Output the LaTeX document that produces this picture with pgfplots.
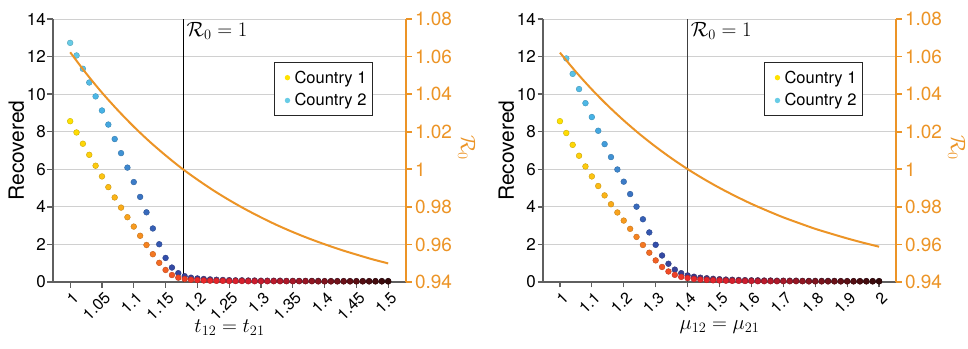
\documentclass[border=0pt]{standalone}
\usepackage{fontspec}
\setmainfont{TeX Gyre Heros}
\usepackage{pgfplots}
\usepackage{pgfplotstable}
\pgfplotsset{compat=1.18}

\definecolor{rzero}{RGB}{236,148,38}
\definecolor{axgray}{RGB}{95,95,95}
\definecolor{gridgray}{RGB}{208,208,208}
\definecolor{cone}{RGB}{255,226,0}
\definecolor{ctwo}{RGB}{104,204,230}

\pgfplotsset{
  colormap={countryone}{rgb255=(255,226,0) rgb255=(253,196,18) rgb255=(248,155,30)
    rgb255=(242,96,36) rgb255=(236,42,40) rgb255=(224,34,44) rgb255=(200,28,46)
    rgb255=(168,24,40) rgb255=(128,20,30) rgb255=(92,15,20) rgb255=(52,10,10)},
  colormap={countrytwo}{rgb255=(104,204,230) rgb255=(70,178,230) rgb255=(60,124,200)
    rgb255=(50,78,170) rgb255=(60,58,140) rgb255=(80,50,110) rgb255=(80,40,90)
    rgb255=(70,30,70) rgb255=(60,22,50) rgb255=(50,16,36) rgb255=(40,12,24)},
  dotlegend/.style={legend image code/.code={%
      \fill[draw=none, fill=#1] (0.32cm,0cm) circle (2.7bp);
      \path[draw=none, fill=none] (0cm,-0.1cm) rectangle (0.5cm,0.1cm);}},
  recbase/.style={
    scale only axis, width=353bp, height=263bp,
    ymin=0, ymax=14, ytick={0,2,4,6,8,10,12,14},
    axis y line*=left, axis x line*=bottom,
    axis line style={axgray, line width=1.3bp},
    ymajorgrids, grid style={gridgray, line width=0.9bp},
    tick style={axgray, line width=1.3bp},
    tick align=outside, major tick length=5.5bp,
    /pgf/number format/assume math mode=true,
    tick label style={font=\fontsize{17bp}{19bp}\selectfont},
    yticklabel style={inner xsep=1.5bp},
    xticklabel style={rotate=45, anchor=north east, xshift=2bp,
      font=\fontsize{16bp}{18bp}\selectfont},
    clip=false,
    ylabel={Recovered},
    ylabel style={font=\fontsize{21bp}{24bp}\selectfont,
      at={(axis description cs:-0.104,0.5)}, anchor=center},
    xlabel style={font=\fontsize{19.5bp}{22bp}\selectfont,
      at={(axis description cs:0.5,-0.172)}, anchor=center},
    legend style={at={(axis description cs:0.626,0.837)}, anchor=north west,
      draw=black!85, line width=0.8bp,
      font=\fontsize{16.5bp}{19bp}\selectfont, row sep=5bp,
      inner xsep=4bp, inner ysep=6.5bp},
    legend cell align=left,
    point meta=x,
  },
  r0base/.style={
    scale only axis, width=353bp, height=263bp,
    ymin=0.94, ymax=1.08, ytick={0.94,0.96,0.98,1,1.02,1.04,1.06,1.08},
    axis y line*=right, axis x line=none, xtick=\empty,
    axis line style={rzero, line width=1.6bp},
    tick style={rzero, line width=1.6bp},
    tick align=outside, major tick length=5.5bp,
    /pgf/number format/assume math mode=true,
    yticklabel style={rzero, font=\fontsize{19bp}{21bp}\selectfont},
    ylabel={$\mathcal{R}_0$},
    ylabel style={rzero, font=\fontsize{20bp}{22bp}\selectfont, rotate=180,
      at={(axis description cs:1.172,0.51)}, anchor=center},
  },
}

% Recovered at the end of the run, travel-rate sweep (t12 = t21)
\pgfplotstableread{
x y
1.00 8.56
1.01 7.96
1.02 7.36
1.03 6.77
1.04 6.19
1.05 5.62
1.06 5.05
1.07 4.50
1.08 3.96
1.09 3.45
1.10 2.95
1.11 2.46
1.12 1.97
1.13 1.48
1.14 1.02
1.15 0.64
1.16 0.37
1.17 0.23
1.18 0.16
1.19 0.12
1.20 0.10
1.21 0.08
1.22 0.07
1.23 0.06
1.24 0.06
1.25 0.05
1.26 0.05
1.27 0.05
1.28 0.04
1.29 0.04
1.30 0.04
1.31 0.04
1.32 0.04
1.33 0.04
1.34 0.04
1.35 0.04
1.36 0.04
1.37 0.04
1.38 0.04
1.39 0.03
1.40 0.03
1.41 0.03
1.42 0.03
1.43 0.03
1.44 0.03
1.45 0.03
1.46 0.03
1.47 0.03
1.48 0.03
1.49 0.03
1.50 0.03
}\tOne
\pgfplotstableread{
x y
1.00 12.73
1.01 12.06
1.02 11.35
1.03 10.62
1.04 9.88
1.05 9.13
1.06 8.38
1.07 7.61
1.08 6.86
1.09 6.09
1.10 5.32
1.11 4.53
1.12 3.71
1.13 2.85
1.14 2.01
1.15 1.28
1.16 0.77
1.17 0.47
1.18 0.31
1.19 0.23
1.20 0.19
1.21 0.16
1.22 0.14
1.23 0.12
1.24 0.11
1.25 0.10
1.26 0.09
1.27 0.09
1.28 0.08
1.29 0.08
1.30 0.07
1.31 0.07
1.32 0.07
1.33 0.07
1.34 0.06
1.35 0.06
1.36 0.06
1.37 0.06
1.38 0.06
1.39 0.06
1.40 0.05
1.41 0.05
1.42 0.05
1.43 0.05
1.44 0.05
1.45 0.05
1.46 0.05
1.47 0.05
1.48 0.05
1.49 0.05
1.50 0.05
}\tTwo
\pgfplotstableread{
x y
1.000 1.0623
1.025 1.0511
1.050 1.0408
1.075 1.0314
1.100 1.0227
1.125 1.0147
1.150 1.0074
1.175 1.0006
1.200 0.9945
1.225 0.9888
1.250 0.9836
1.275 0.9788
1.300 0.9744
1.325 0.9703
1.350 0.9666
1.375 0.9632
1.400 0.9601
1.425 0.9572
1.450 0.9546
1.475 0.9521
1.500 0.9499
}\tRzero

% Recovered at the end of the run, mobility sweep (mu12 = mu21)
\pgfplotstableread{
x y
1.00 8.56
1.02 7.93
1.04 7.30
1.06 6.72
1.08 6.15
1.10 5.62
1.12 5.11
1.14 4.61
1.16 4.14
1.18 3.70
1.20 3.27
1.22 2.83
1.24 2.40
1.26 1.97
1.28 1.56
1.30 1.15
1.32 0.80
1.34 0.56
1.36 0.38
1.38 0.27
1.40 0.21
1.42 0.16
1.44 0.13
1.46 0.11
1.48 0.09
1.50 0.08
1.52 0.07
1.54 0.06
1.56 0.06
1.58 0.05
1.60 0.05
1.62 0.04
1.64 0.04
1.66 0.04
1.68 0.04
1.70 0.04
1.72 0.04
1.74 0.04
1.76 0.04
1.78 0.03
1.80 0.03
1.82 0.03
1.84 0.03
1.86 0.03
1.88 0.03
1.90 0.03
1.92 0.03
1.94 0.03
1.96 0.03
1.98 0.03
2.00 0.03
}\mOne
\pgfplotstableread{
x y
1.02 11.90
1.04 11.08
1.06 10.27
1.08 9.52
1.10 8.78
1.12 8.05
1.14 7.34
1.16 6.65
1.18 5.99
1.20 5.34
1.22 4.68
1.24 4.01
1.26 3.34
1.28 2.64
1.30 1.98
1.32 1.41
1.34 0.97
1.36 0.66
1.38 0.47
1.40 0.35
1.42 0.28
1.44 0.23
1.46 0.20
1.48 0.17
1.50 0.15
1.52 0.13
1.54 0.12
1.56 0.11
1.58 0.10
1.60 0.09
1.62 0.09
1.64 0.08
1.66 0.08
1.68 0.07
1.70 0.07
1.72 0.07
1.74 0.07
1.76 0.06
1.78 0.06
1.80 0.06
1.82 0.06
1.84 0.06
1.86 0.06
1.88 0.05
1.90 0.05
1.92 0.05
1.94 0.05
1.96 0.05
1.98 0.05
2.00 0.05
}\mTwo
\pgfplotstableread{
x y
1.00 1.0621
1.05 1.0519
1.10 1.0425
1.15 1.0339
1.20 1.0260
1.25 1.0187
1.30 1.0120
1.35 1.0058
1.40 1.0001
1.45 0.9949
1.50 0.9901
1.55 0.9857
1.60 0.9816
1.65 0.9779
1.70 0.9744
1.75 0.9713
1.80 0.9683
1.85 0.9657
1.90 0.9632
1.95 0.9609
2.00 0.9588
}\mRzero

\begin{document}
\begin{tikzpicture}
\path[use as bounding box] (0,0) rectangle (968bp,349bp);

% ---------- left panel: t12 = t21 ----------
\begin{axis}[recbase, at={(53bp,67bp)}, anchor=south west,
  xmin=0.973, xmax=1.528,
  xtick={1,1.05,1.1,1.15,1.2,1.25,1.3,1.35,1.4,1.45,1.5},
  xticklabels={1,1.05,1.1,1.15,1.2,1.25,1.3,1.35,1.4,1.45,1.5},
  point meta min=1, point meta max=1.5,
  xlabel={$t_{12}=t_{21}$}]
\addlegendimage{dotlegend=cone}
\addlegendentry{Country 1}
\addlegendimage{dotlegend=ctwo}
\addlegendentry{Country 2}
\addplot[black, line width=0.9bp, forget plot] coordinates {(1.178,0) (1.178,14)};
\addplot[scatter, only marks, mark=*, mark size=2.9bp, colormap name=countrytwo, forget plot]
  table[x=x, y=y] {\tTwo};
\addplot[scatter, only marks, mark=*, mark size=2.9bp, colormap name=countryone, forget plot]
  table[x=x, y=y] {\tOne};
\node[anchor=north west, font=\fontsize{19bp}{21bp}\selectfont, inner sep=3bp]
  at (axis cs:1.178,14) {$\mathcal{R}_0=1$};
\end{axis}
\begin{axis}[r0base, at={(53bp,67bp)}, anchor=south west,
  xmin=0.973, xmax=1.528]
\addplot[rzero, line width=2bp, smooth] table[x=x, y=y] {\tRzero};
\end{axis}

% ---------- right panel: mu12 = mu21 ----------
\begin{axis}[recbase, at={(543bp,67bp)}, anchor=south west,
  xmin=0.947, xmax=2.053,
  xtick={1,1.1,1.2,1.3,1.4,1.5,1.6,1.7,1.8,1.9,2},
  xticklabels={1,1.1,1.2,1.3,1.4,1.5,1.6,1.7,1.8,1.9,2},
  point meta min=1, point meta max=2,
  xlabel={$\mu_{12}=\mu_{21}$}]
\addlegendimage{dotlegend=cone}
\addlegendentry{Country 1}
\addlegendimage{dotlegend=ctwo}
\addlegendentry{Country 2}
\addplot[black!75, line width=0.9bp, forget plot] coordinates {(1.4,0) (1.4,14)};
\addplot[scatter, only marks, mark=*, mark size=2.9bp, colormap name=countrytwo, forget plot]
  table[x=x, y=y] {\mTwo};
\addplot[scatter, only marks, mark=*, mark size=2.9bp, colormap name=countryone, forget plot]
  table[x=x, y=y] {\mOne};
\node[anchor=north west, font=\fontsize{19bp}{21bp}\selectfont, inner sep=3bp]
  at (axis cs:1.4,14) {$\mathcal{R}_0=1$};
\end{axis}
\begin{axis}[r0base, at={(543bp,67bp)}, anchor=south west,
  xmin=0.947, xmax=2.053]
\addplot[rzero, line width=2bp, smooth] table[x=x, y=y] {\mRzero};
\end{axis}
\end{tikzpicture}
\end{document}
